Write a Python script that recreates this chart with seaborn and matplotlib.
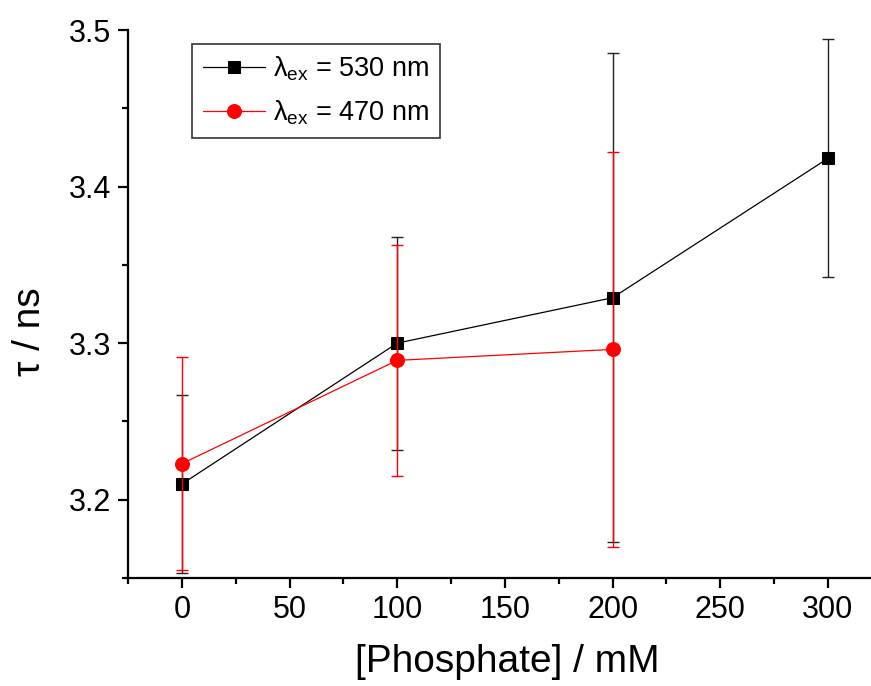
import matplotlib
matplotlib.use("Agg")
import matplotlib.pyplot as plt
import seaborn as sns
import pandas as pd
import numpy as np

# Data
x_530 = [0, 100, 200, 300]
tau_530 = [3.210, 3.300, 3.329, 3.418]
err_530 = [0.057, 0.068, 0.156, 0.076]

x_470 = [0, 100, 200]
tau_470 = [3.223, 3.289, 3.296]
err_470 = [0.068, 0.074, 0.126]

label_530 = r"λ$_{\mathrm{ex}}$ = 530 nm"
label_470 = r"λ$_{\mathrm{ex}}$ = 470 nm"

sns.set_style("ticks")
plt.rcParams["font.family"] = ["Liberation Sans", "DejaVu Sans"]
plt.rcParams["mathtext.fontset"] = "custom"
plt.rcParams["mathtext.rm"] = "Liberation Sans"
plt.rcParams["mathtext.it"] = "Liberation Sans:italic"
plt.rcParams["text.color"] = "black"
plt.rcParams["axes.labelcolor"] = "black"

df530 = pd.DataFrame({"x": x_530, "tau": tau_530})
df470 = pd.DataFrame({"x": x_470, "tau": tau_470})

fig = plt.figure(figsize=(8.71, 6.86), dpi=100)
ax = fig.add_axes([128 / 871, 1 - 578 / 686, 743 / 871, 548 / 686])

# black series
ax.errorbar(x_530, tau_530, yerr=err_530, fmt="none", ecolor="#222222",
            elinewidth=1.0, capsize=4.5, capthick=1.0, zorder=2)
sns.lineplot(data=df530, x="x", y="tau", ax=ax, color="black", lw=0.9,
             marker="s", markersize=9, markeredgecolor="black",
             label=label_530, zorder=3)
# red series
ax.errorbar(x_470, tau_470, yerr=err_470, fmt="none", ecolor="red",
            elinewidth=1.0, capsize=4.5, capthick=1.0, zorder=4)
sns.lineplot(data=df470, x="x", y="tau", ax=ax, color="red", lw=0.9,
             marker="o", markersize=10, markeredgecolor="red",
             label=label_470, zorder=5)

ax.set_xlim(-25, 320)
ax.set_ylim(3.15, 3.5)
ax.set_xticks([0, 50, 100, 150, 200, 250, 300])
ax.set_xticks([-25, 25, 75, 125, 175, 225, 275], minor=True)
ax.set_yticks([3.2, 3.3, 3.4, 3.5])
ax.set_yticks([3.15, 3.25, 3.35, 3.45], minor=True)
ax.set_yticklabels(["3.2", "3.3", "3.4", "3.5"])

for s in ["top", "right"]:
    ax.spines[s].set_visible(False)
for s in ["left", "bottom"]:
    ax.spines[s].set_linewidth(1.6)
    ax.spines[s].set_color("black")

ax.tick_params(axis="both", which="major", direction="out", length=7,
               width=1.6, labelsize=22, colors="black", pad=5)
ax.tick_params(axis="both", which="minor", direction="out", length=4,
               width=1.6, colors="black")

ax.set_xlabel("[Phosphate] / mM", fontsize=28, color="black")
ax.set_ylabel("τ / ns", fontsize=28, color="black")
ax.xaxis.set_label_coords((507 - 128) / 743, -(662 - 578) / 548)
ax.yaxis.set_label_coords(-(128 - 30) / 743, 1 - (332 - 30) / 548)
ax.xaxis.label.set_va("center")
ax.yaxis.label.set_va("center")

leg = ax.legend(loc="upper left", bbox_to_anchor=((192 - 128) / 743, 1 - (44 - 30) / 548),
                fontsize=19.5, frameon=True, fancybox=False, edgecolor="#333333",
                framealpha=1, borderpad=0.4, handlelength=2.3, handletextpad=0.3,
                labelspacing=0.55, borderaxespad=0)
leg.get_frame().set_linewidth(1.2)
for t in leg.get_texts():
    t.set_color("black")

fig.savefig("out.png", dpi=100)
